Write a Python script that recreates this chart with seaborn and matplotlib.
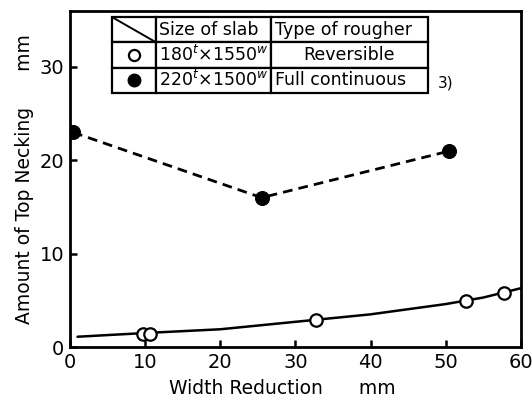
import matplotlib
matplotlib.use("Agg")
import matplotlib.pyplot as plt
import seaborn as sns
import pandas as pd

# Data
full_x = [0.4, 25.5, 50.5]
full_y = [23.0, 16.0, 21.0]

rev_x = [9.7, 10.6, 32.8, 52.7, 57.8]
rev_y = [1.4, 1.4, 2.9, 4.9, 5.8]

curve_x = [1.0, 10.0, 20.0, 30.0, 40.0, 50.0, 55.0, 60.0]
curve_y = [1.1, 1.5, 1.9, 2.7, 3.5, 4.6, 5.3, 6.3]

x_ticks = [0, 10, 20, 30, 40, 50, 60]
y_ticks = [0, 10, 20, 30]

sns.set_style("ticks")
plt.rcParams["font.family"] = ["DejaVu Sans"]
plt.rcParams["mathtext.fontset"] = "dejavusans"
plt.rcParams["text.color"] = "black"
plt.rcParams["axes.labelcolor"] = "black"

fig = plt.figure(figsize=(5.32, 4.07), dpi=100)
ax = fig.add_axes([0.1316, 0.1474, 0.8474, 0.8256])

df_full = pd.DataFrame({"x": full_x, "y": full_y})
df_rev = pd.DataFrame({"x": rev_x, "y": rev_y})
df_curve = pd.DataFrame({"x": curve_x, "y": curve_y})

sns.lineplot(data=df_curve, x="x", y="y", ax=ax, color="black", lw=1.8,
             estimator=None, sort=True, zorder=2)
sns.lineplot(data=df_full, x="x", y="y", ax=ax, color="black", lw=2.0,
             estimator=None, sort=True, dashes=False, zorder=2)
ax.lines[-1].set_dashes((3.5, 2.2))
sns.scatterplot(data=df_full, x="x", y="y", ax=ax, color="black", s=100,
                marker="o", edgecolor="black", zorder=3)
ax.scatter(rev_x, rev_y, s=80, facecolors="white", edgecolors="black",
           linewidths=1.6, zorder=4)

ax.set_xlim(0, 60)
ax.set_ylim(0, 36)
ax.set_xticks(x_ticks)
ax.set_yticks(y_ticks)
ax.tick_params(direction="in", length=5, width=1.8, labelsize=14, pad=4,
               colors="black")
for sp in ax.spines.values():
    sp.set_visible(True)
    sp.set_linewidth(2.0)
    sp.set_color("black")

ax.set_xlabel("Width Reduction      mm", fontsize=13.5, color="black")
ax.xaxis.set_label_coords(0.47, -0.095)
ax.set_ylabel("Amount of Top Necking      mm", fontsize=13.5, labelpad=4,
              color="black")

# Table legend
cell_text = [["", "Size of slab", "Type of rougher"],
             ["", r"180$^{t}$×1550$^{w}$", "Reversible"],
             ["", r"220$^{t}$×1500$^{w}$", "Full continuous"]]
tb = ax.table(cellText=cell_text, colWidths=[0.14, 0.365, 0.495],
              bbox=[0.093, 0.756, 0.70, 0.226], cellLoc="left", zorder=5)
tb.auto_set_font_size(False)
for (r, c), cell in tb.get_celld().items():
    cell.set_linewidth(1.6)
    cell.set_edgecolor("black")
    cell.set_facecolor("white")
    cell.get_text().set_fontsize(12.5)
    cell.get_text().set_color("black")
    cell.PAD = 0.025
tb[1, 2]._loc = "center"
tb[1, 2].get_text().set_ha("center")

# diagonal in header first cell
x0, x1 = 0.093, 0.093 + 0.70 * 0.14
ytop, ybot = 0.982, 0.982 - 0.226 / 3
ax.plot([x0, x1], [ytop, ybot], transform=ax.transAxes, color="black",
        lw=1.4, zorder=6)
xm = (x0 + x1) / 2
ax.plot([xm], [0.982 - 0.226 / 2], transform=ax.transAxes, marker="o",
        ms=8, mfc="white", mec="black", mew=1.6, zorder=6)
ax.plot([xm], [0.982 - 0.226 * 5 / 6], transform=ax.transAxes, marker="o",
        ms=9, mfc="black", mec="black", zorder=6)

ax.text(0.815, 0.785, "3)", transform=ax.transAxes, fontsize=11,
        ha="left", va="center")

fig.savefig("out.png", dpi=100)
